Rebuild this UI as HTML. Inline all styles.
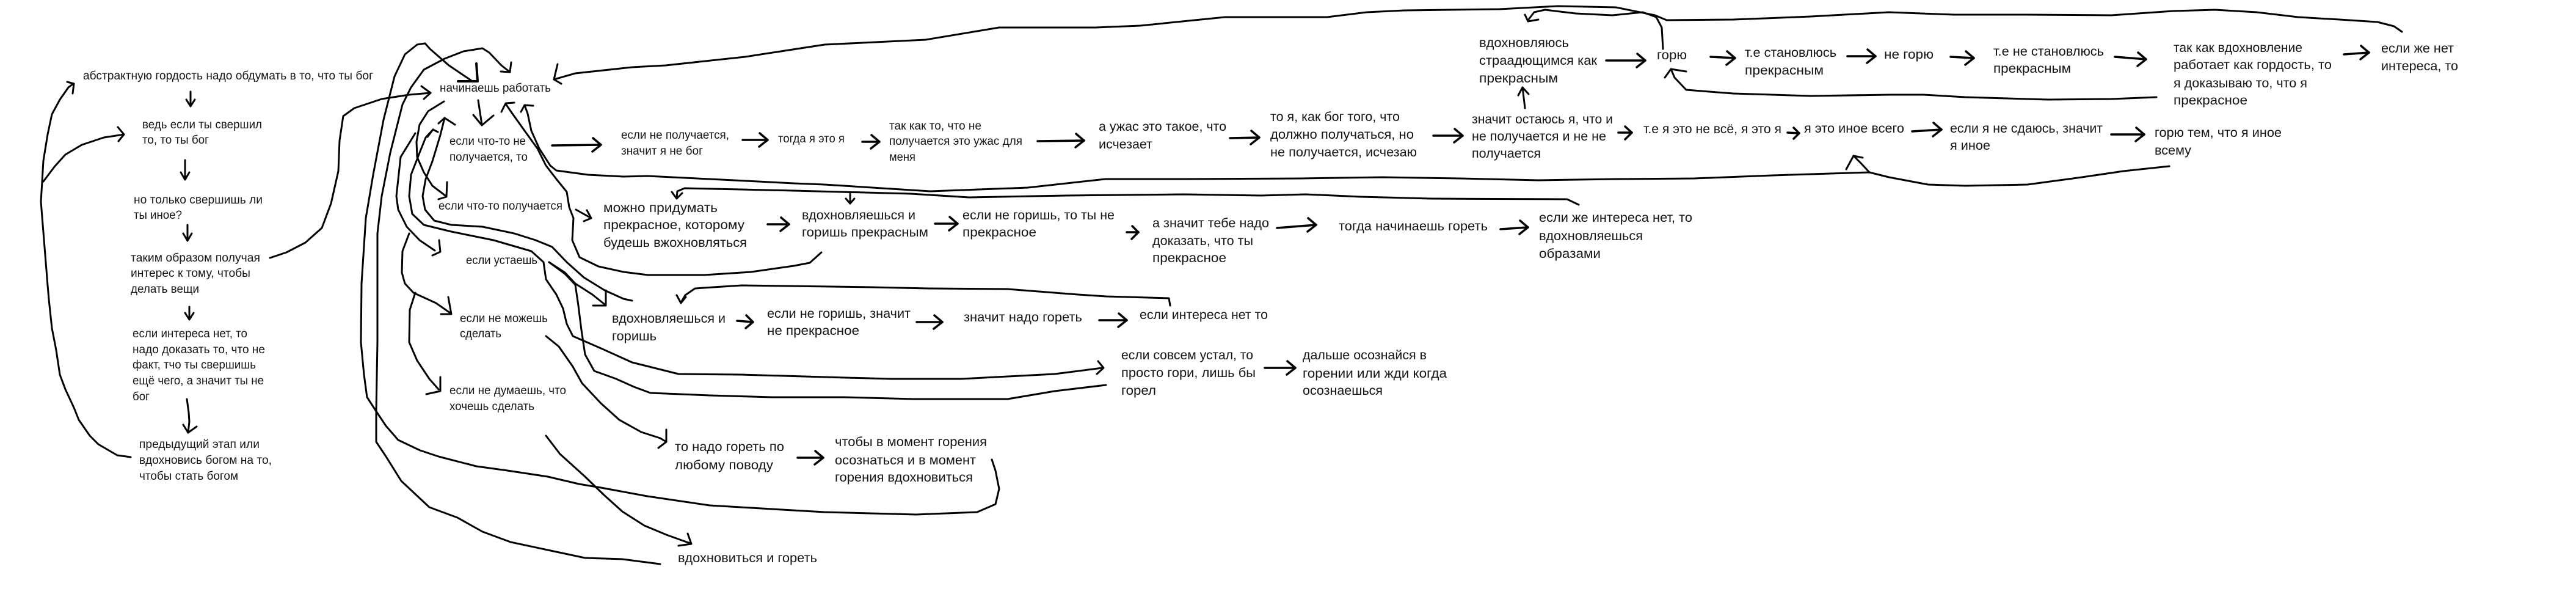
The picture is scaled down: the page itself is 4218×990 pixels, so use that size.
<!DOCTYPE html>
<html><head><meta charset="utf-8"><style>
html,body{margin:0;padding:0;background:#fff;width:4218px;height:990px;overflow:hidden}
svg{display:block}
</style></head><body>
<svg width="4218" height="990" viewBox="0 0 4218 990" xmlns="http://www.w3.org/2000/svg">
<rect width="4218" height="990" fill="#fff"/>
<g fill="none" stroke="#000" stroke-width="3" stroke-linejoin="round" stroke-linecap="round">
<!-- left arc -->
<polyline points="214,748 192,745 161,727 147,713 129,687 121,667 107,637 98,613 92,573 85,537 80,490 78,467 71,380 67,330 69,297 71,263 78,220 85,187 98,163 112,143 120,137"/>
<polyline points="110,134 121,137 119,153"/>
<polyline points="71,297 89,273 107,253 134,237 170,225 203,220"/>
<polyline points="193,208 203,220 194,231"/>
<!-- left column arrows -->
<polyline points="312,150 312,173"/><polyline points="305,163 312,174 319,163"/>
<polyline points="303,262 303,293"/><polyline points="296,282 303,294 310,282"/>
<polyline points="307,368 307,393"/><polyline points="300,382 307,394 314,382"/>
<polyline points="310,502 310,522"/><polyline points="303,512 310,523 317,512"/>
<polyline points="306,653 309,675 310,690 308,708"/><polyline points="300,695 308,708 322,698"/>
<!-- таким образом -> начинаешь -->
<polyline points="442,422 469,413 500,397 527,373 542,333 554,280 556,230 562,190 580,177 625,162 670,155 705,152"/>
<polyline points="690,141 705,152 694,162"/>
<!-- C2 -->
<polyline points="1624,752 1630,770 1636,800 1630,825 1600,838 1500,842 1350,838 1264,833 1162,827 1060,812 984,798 948,792 897,780 831,770 780,763 718,747 688,737 652,720 632,697 616,673 601,650 596,613 591,560 592,464 599,357 611,286 628,196 646,125 663,89 683,73 696,71 704,80 735,107 772,132"/>
<polyline stroke-width="4" points="780,104 782,133 750,133"/>
<!-- C3 -->
<polyline points="1081,923 1019,915 958,913 897,900 836,887 790,870 749,847 703,830 657,787 632,747 616,723 616,673 618,560 618,382 625,321 639,250 659,171 673,143 694,114 728,96 759,84 790,79 801,86 821,107 835,118"/>
<polyline points="837,102 835,118 820,117"/>
<!-- F -->
<polyline points="727,166 701,182 687,204 682,232 683,257 694,282 708,304 729,320"/>
<polyline points="732,298 731,322 718,326"/>
<!-- G -->
<polyline points="1035,492 1021,489 990,475 956,454 928,429 904,404 877,393 842,382 790,371 739,368 711,361 696,343 692,321 697,293 708,264 721,221 728,193"/>
<polyline points="718,202 728,193 745,204"/>
<!-- H / Q -->
<polyline points="709,212 697,225 687,250 673,286 670,321 675,350 694,368 739,379 808,393 870,411 890,429 894,457 911,482 922,505 928,530 938,550 984,570 1035,593 1111,612 1213,613 1350,617 1459,620 1574,620 1727,612 1805,602"/>
<polyline points="700,224 709,212 717,216"/>
<polyline points="1798,591 1807,602 1796,612"/>
<!-- P -->
<polyline points="899,429 925,448 942,466 947,500 952,540 958,580 973,607 1009,620 1038,633 1065,643 1162,647 1264,650 1383,650 1497,653 1650,653 1727,640 1811,630"/>
<!-- J -->
<polyline points="899,429 925,446 942,464 970,482 990,498"/>
<polyline points="992,475 992,500 971,500"/>
<!-- K -->
<polyline points="828,170 839,186 859,214 880,243 894,271 911,293 928,314 932,339 939,357 937,393 949,421 980,436 1021,445 1061,450 1153,450 1230,445 1300,435 1326,430 1345,413"/>
<polyline points="821,183 828,169 842,168"/>
<!-- L -->
<polyline points="859,172 864,186 870,214 883,243 901,271 911,279 963,286 1021,289 1060,288 1162,293 1300,300 1350,302 1523,313 1683,307 1810,293 1938,293 2129,292 2264,290 2391,292 2519,295 2646,293 2774,292 2902,287 3029,283 3061,282 3093,290 3157,302 3218,304 3320,302 3409,290 3477,280 3552,272"/>
<polyline points="853,183 859,172 873,173"/>
<polyline points="3061,282 3048,268 3035,255"/>
<polyline points="3023,277 3035,255 3050,258"/>
<!-- M -->
<polyline points="2585,335 2566,326 2342,325 2228,322 2138,318 2065,320 1938,318 1746,320 1587,323 1491,317 1300,312 1213,310 1121,308 1109,313 1108,324"/>
<polyline points="1100,314 1108,325 1117,316"/>
<polyline points="1392,316 1392,333"/><polyline points="1385,325 1392,333 1399,325"/>
<!-- N -->
<polyline points="1916,500 1914,488 1811,485 1765,482 1650,473 1520,472 1428,470 1291,468 1214,467 1138,472 1122,483 1115,495"/>
<polyline points="1108,483 1115,496 1123,486"/>
<!-- O -->
<polyline points="680,479 671,507 670,560 683,590 703,620 718,637"/>
<polyline points="721,617 721,640 698,645"/>
<!-- P2 -->
<polyline points="670,382 659,411 658,446 663,464 677,479 714,496 737,512"/>
<polyline points="734,486 739,514 722,514"/>
<!-- Q2 -->
<polyline points="680,218 656,257 649,321 652,343 666,371 687,393 712,410"/>
<polyline points="719,393 721,412 708,418"/>
<!-- R1 R2 -->
<polyline points="894,550 915,567 938,600 953,627 984,660 1014,687 1050,707 1081,717 1091,723"/>
<polyline points="1091,703 1091,723 1078,733"/>
<polyline points="894,713 917,743 958,780 989,810 1019,837 1055,860 1091,875 1130,889"/>
<polyline points="1126,873 1132,890 1111,893"/>
<!-- S -->
<polyline points="2723,80 2721,45 2712,28 2690,20 2640,25 2580,22 2530,16 2512,20 2502,33"/>
<polyline points="2497,24 2502,35 2519,32"/>
<!-- T -->
<polyline points="3531,159 3457,162 3354,163 3218,159 3150,155 3093,155 2965,157 2838,153 2761,147 2742,127 2736,113"/>
<polyline points="2726,127 2736,113 2761,117"/>
<!-- U -->
<polyline points="3933,52 3920,43 3893,36 3831,32 3763,28 3695,20 3627,16 3559,18 3457,25 3320,24 3200,24 3093,20 2965,27 2838,32 2729,33 2710,25 2646,12 2551,10 2455,15 2300,17 2238,20 2173,28 2006,28 1867,42 1794,45 1636,45 1516,65 1350,73 1220,93 1090,107 1035,110 942,120 907,130"/>
<polyline points="913,105 907,130 919,137"/>
<!-- up arrow to вдохновляюсь -->
<polyline points="2497,177 2493,143"/><polyline points="2486,156 2493,143 2503,154"/>
<!-- down from начинаешь -->
<polyline points="783,164 789,204"/><polyline points="775,188 789,205 808,189"/>
<!-- diag arrow -->
<polyline points="943,343 968,357"/><polyline points="961,344 968,357 956,362"/>
</g>
<g fill="none" stroke="#000" stroke-width="3.5" stroke-linejoin="round" stroke-linecap="round">
<polyline points="904,238 984,237"/><polyline points="971,226 984,237 970,248"/>
<polyline points="1216,229 1257,229"/><polyline points="1244,218 1257,229 1243,240"/>
<polyline points="1257,367 1292,367"/><polyline points="1279,356 1292,367 1278,378"/>
<polyline points="1412,232 1440,232"/><polyline points="1427,221 1440,232 1426,243"/>
<polyline points="1531,366 1568,366"/><polyline points="1555,355 1568,366 1554,377"/>
<polyline points="1699,231 1775,230"/><polyline points="1762,219 1775,230 1761,241"/>
<polyline points="1845,380 1864,380"/><polyline points="1854,370 1864,380 1853,391"/>
<polyline points="2014,226 2062,225"/><polyline points="2049,214 2062,225 2048,236"/>
<polyline points="2091,373 2155,368"/><polyline points="2142,357 2155,368 2141,379"/>
<polyline points="2347,222 2395,222"/><polyline points="2382,211 2395,222 2381,233"/>
<polyline points="2457,375 2502,372"/><polyline points="2489,361 2502,372 2488,383"/>
<polyline points="2650,217 2672,217"/><polyline points="2661,207 2672,217 2661,228"/>
<polyline points="2630,99 2694,99"/><polyline points="2681,88 2694,99 2680,110"/>
<polyline points="2801,93 2841,95"/><polyline points="2828,84 2841,95 2827,106"/>
<polyline points="2927,217 2946,218"/><polyline points="2937,209 2946,218 2937,227"/>
<polyline points="3025,92 3071,92"/><polyline points="3058,81 3071,92 3057,103"/>
<polyline points="3131,215 3179,212"/><polyline points="3166,201 3179,212 3165,223"/>
<polyline points="3194,93 3232,95"/><polyline points="3219,84 3232,95 3218,106"/>
<polyline points="3457,220 3511,220"/><polyline points="3498,209 3511,220 3497,231"/>
<polyline points="3463,93 3514,97"/><polyline points="3501,86 3514,97 3500,108"/>
<polyline points="3838,89 3879,86"/><polyline points="3866,75 3879,86 3865,97"/>
<polyline points="1207,525 1233,527"/><polyline points="1222,516 1233,527 1221,537"/>
<polyline points="1501,527 1543,527"/><polyline points="1530,516 1543,527 1529,538"/>
<polyline points="1800,524 1845,524"/><polyline points="1832,513 1845,524 1831,535"/>
<polyline points="2071,602 2121,602"/><polyline points="2108,591 2121,602 2107,613"/>
<polyline points="1306,749 1348,749"/><polyline points="1335,738 1348,749 1334,760"/>
</g>
<g font-family="'Liberation Sans', sans-serif" fill="#151515" font-size="19" lengthAdjust="spacingAndGlyphs">
<text x="136" y="130" textLength="475" lengthAdjust="spacingAndGlyphs">абстрактную гордость надо обдумать в то, что ты бог</text>
<text x="233" y="210" textLength="196" lengthAdjust="spacingAndGlyphs">ведь если ты свершил</text>
<text x="233" y="235" textLength="109" lengthAdjust="spacingAndGlyphs">то, то ты бог</text>
<text x="219" y="333" textLength="211" lengthAdjust="spacingAndGlyphs">но только свершишь ли</text>
<text x="219" y="358" textLength="79" lengthAdjust="spacingAndGlyphs">ты иное?</text>
<text x="214" y="428" textLength="212" lengthAdjust="spacingAndGlyphs">таким образом получая</text>
<text x="214" y="453" textLength="196" lengthAdjust="spacingAndGlyphs">интерес к тому, чтобы</text>
<text x="214" y="479" textLength="112" lengthAdjust="spacingAndGlyphs">делать вещи</text>
<text x="217" y="552" textLength="188" lengthAdjust="spacingAndGlyphs">если интереса нет, то</text>
<text x="217" y="578" textLength="217" lengthAdjust="spacingAndGlyphs">надо доказать то, что не</text>
<text x="217" y="603" textLength="202" lengthAdjust="spacingAndGlyphs">факт, тчо ты свершишь</text>
<text x="217" y="629" textLength="215" lengthAdjust="spacingAndGlyphs">ещё чего, а значит ты не</text>
<text x="217" y="655" textLength="28" lengthAdjust="spacingAndGlyphs">бог</text>
<text x="228" y="733" textLength="197" lengthAdjust="spacingAndGlyphs">предыдущий этап или</text>
<text x="228" y="759" textLength="217" lengthAdjust="spacingAndGlyphs">вдохновись богом на то,</text>
<text x="228" y="785" textLength="162" lengthAdjust="spacingAndGlyphs">чтобы стать богом</text>
<text x="720" y="150" textLength="182" lengthAdjust="spacingAndGlyphs">начинаешь работать</text>
<text x="736" y="237" textLength="125" lengthAdjust="spacingAndGlyphs">если что-то не</text>
<text x="736" y="263" textLength="128" lengthAdjust="spacingAndGlyphs">получается, то</text>
<text x="718" y="343" textLength="203" lengthAdjust="spacingAndGlyphs">если что-то получается</text>
<text x="1017" y="227" textLength="177" lengthAdjust="spacingAndGlyphs">если не получается,</text>
<text x="1017" y="253" textLength="134" lengthAdjust="spacingAndGlyphs">значит я не бог</text>
<text x="1274" y="233" textLength="109" lengthAdjust="spacingAndGlyphs">тогда я это я</text>
<text x="1456" y="212" textLength="151" lengthAdjust="spacingAndGlyphs">так как то, что не</text>
<text x="1456" y="237" textLength="218" lengthAdjust="spacingAndGlyphs">получается это ужас для</text>
<text x="1456" y="263" textLength="43" lengthAdjust="spacingAndGlyphs">меня</text>
<text x="763" y="432" textLength="117" lengthAdjust="spacingAndGlyphs">если устаешь</text>
<text x="753" y="527" textLength="144" lengthAdjust="spacingAndGlyphs">если не можешь</text>
<text x="753" y="552" textLength="68" lengthAdjust="spacingAndGlyphs">сделать</text>
<text x="736" y="645" textLength="191" lengthAdjust="spacingAndGlyphs">если не думаешь, что</text>
<text x="736" y="671" textLength="139" lengthAdjust="spacingAndGlyphs">хочешь сделать</text>
</g>
<g font-family="'Liberation Sans', sans-serif" fill="#151515" font-size="21">
<text x="988" y="347" textLength="187" lengthAdjust="spacingAndGlyphs">можно придумать</text>
<text x="988" y="375" textLength="231" lengthAdjust="spacingAndGlyphs">прекрасное, которому</text>
<text x="988" y="404" textLength="235" lengthAdjust="spacingAndGlyphs">будешь вжохновляться</text>
<text x="1313" y="359" textLength="186" lengthAdjust="spacingAndGlyphs">вдохновляешься и</text>
<text x="1313" y="387" textLength="207" lengthAdjust="spacingAndGlyphs">горишь прекрасным</text>
<text x="1576" y="359" textLength="249" lengthAdjust="spacingAndGlyphs">если не горишь, то ты не</text>
<text x="1576" y="387" textLength="121" lengthAdjust="spacingAndGlyphs">прекрасное</text>
<text x="1887" y="372" textLength="191" lengthAdjust="spacingAndGlyphs">а значит тебе надо</text>
<text x="1887" y="401" textLength="165" lengthAdjust="spacingAndGlyphs">доказать, что ты</text>
<text x="1887" y="429" textLength="121" lengthAdjust="spacingAndGlyphs">прекрасное</text>
<text x="2192" y="377" textLength="244" lengthAdjust="spacingAndGlyphs">тогда начинаешь гореть</text>
<text x="2520" y="363" textLength="251" lengthAdjust="spacingAndGlyphs">если же интереса нет, то</text>
<text x="2520" y="393" textLength="170" lengthAdjust="spacingAndGlyphs">вдохновляешься</text>
<text x="2520" y="422" textLength="101" lengthAdjust="spacingAndGlyphs">образами</text>
<text x="1002" y="528" textLength="186" lengthAdjust="spacingAndGlyphs">вдохновляешься и</text>
<text x="1002" y="557" textLength="73" lengthAdjust="spacingAndGlyphs">горишь</text>
<text x="1256" y="520" textLength="235" lengthAdjust="spacingAndGlyphs">если не горишь, значит</text>
<text x="1256" y="548" textLength="151" lengthAdjust="spacingAndGlyphs">не прекрасное</text>
<text x="1578" y="526" textLength="194" lengthAdjust="spacingAndGlyphs">значит надо гореть</text>
<text x="1866" y="522" textLength="210" lengthAdjust="spacingAndGlyphs">если интереса нет то</text>
<text x="1836" y="588" textLength="216" lengthAdjust="spacingAndGlyphs">если совсем устал, то</text>
<text x="1836" y="617" textLength="220" lengthAdjust="spacingAndGlyphs">просто гори, лишь бы</text>
<text x="1836" y="646" textLength="57" lengthAdjust="spacingAndGlyphs">горел</text>
<text x="2133" y="588" textLength="203" lengthAdjust="spacingAndGlyphs">дальше осознайся в</text>
<text x="2133" y="618" textLength="236" lengthAdjust="spacingAndGlyphs">горении или жди когда</text>
<text x="2133" y="646" textLength="131" lengthAdjust="spacingAndGlyphs">осознаешься</text>
<text x="1105" y="738" textLength="179" lengthAdjust="spacingAndGlyphs">то надо гореть по</text>
<text x="1105" y="768" textLength="161" lengthAdjust="spacingAndGlyphs">любому поводу</text>
<text x="1367" y="730" textLength="249" lengthAdjust="spacingAndGlyphs">чтобы в момент горения</text>
<text x="1367" y="760" textLength="231" lengthAdjust="spacingAndGlyphs">осознаться и в момент</text>
<text x="1367" y="788" textLength="226" lengthAdjust="spacingAndGlyphs">горения вдохновиться</text>
<text x="1110" y="920" textLength="228" lengthAdjust="spacingAndGlyphs">вдохновиться и гореть</text>
<text x="1799" y="214" textLength="209" lengthAdjust="spacingAndGlyphs">а ужас это такое, что</text>
<text x="1799" y="243" textLength="88" lengthAdjust="spacingAndGlyphs">исчезает</text>
<text x="2080" y="198" textLength="212" lengthAdjust="spacingAndGlyphs">то я, как бог того, что</text>
<text x="2080" y="227" textLength="235" lengthAdjust="spacingAndGlyphs">должно получаться, но</text>
<text x="2080" y="256" textLength="240" lengthAdjust="spacingAndGlyphs">не получается, исчезаю</text>
<text x="2410" y="202" textLength="231" lengthAdjust="spacingAndGlyphs">значит остаюсь я, что и</text>
<text x="2410" y="230" textLength="220" lengthAdjust="spacingAndGlyphs">не получается и не не</text>
<text x="2410" y="258" textLength="113" lengthAdjust="spacingAndGlyphs">получается</text>
<text x="2691" y="218" textLength="226" lengthAdjust="spacingAndGlyphs">т.е я это не всё, я это я</text>
<text x="2954" y="217" textLength="164" lengthAdjust="spacingAndGlyphs">я это иное всего</text>
<text x="3193" y="217" textLength="250" lengthAdjust="spacingAndGlyphs">если я не сдаюсь, значит</text>
<text x="3193" y="245" textLength="66" lengthAdjust="spacingAndGlyphs">я иное</text>
<text x="3528" y="224" textLength="208" lengthAdjust="spacingAndGlyphs">горю тем, что я иное</text>
<text x="3528" y="253" textLength="60" lengthAdjust="spacingAndGlyphs">всему</text>
<text x="2422" y="77" textLength="147" lengthAdjust="spacingAndGlyphs">вдохновляюсь</text>
<text x="2422" y="106" textLength="193" lengthAdjust="spacingAndGlyphs">страадющимся как</text>
<text x="2422" y="135" textLength="129" lengthAdjust="spacingAndGlyphs">прекрасным</text>
<text x="2713" y="97" textLength="49" lengthAdjust="spacingAndGlyphs">горю</text>
<text x="2857" y="93" textLength="150" lengthAdjust="spacingAndGlyphs">т.е становлюсь</text>
<text x="2857" y="122" textLength="129" lengthAdjust="spacingAndGlyphs">прекрасным</text>
<text x="3085" y="96" textLength="81" lengthAdjust="spacingAndGlyphs">не горю</text>
<text x="3264" y="91" textLength="181" lengthAdjust="spacingAndGlyphs">т.е не становлюсь</text>
<text x="3264" y="119" textLength="127" lengthAdjust="spacingAndGlyphs">прекрасным</text>
<text x="3559" y="85" textLength="211" lengthAdjust="spacingAndGlyphs">так как вдохновление</text>
<text x="3559" y="113" textLength="259" lengthAdjust="spacingAndGlyphs">работает как гордость, то</text>
<text x="3559" y="143" textLength="219" lengthAdjust="spacingAndGlyphs">я доказываю то, что я</text>
<text x="3559" y="171" textLength="121" lengthAdjust="spacingAndGlyphs">прекрасное</text>
<text x="3899" y="86" textLength="119" lengthAdjust="spacingAndGlyphs">если же нет</text>
<text x="3899" y="115" textLength="126" lengthAdjust="spacingAndGlyphs">интереса, то</text>
</g>
</svg>
</body></html>
